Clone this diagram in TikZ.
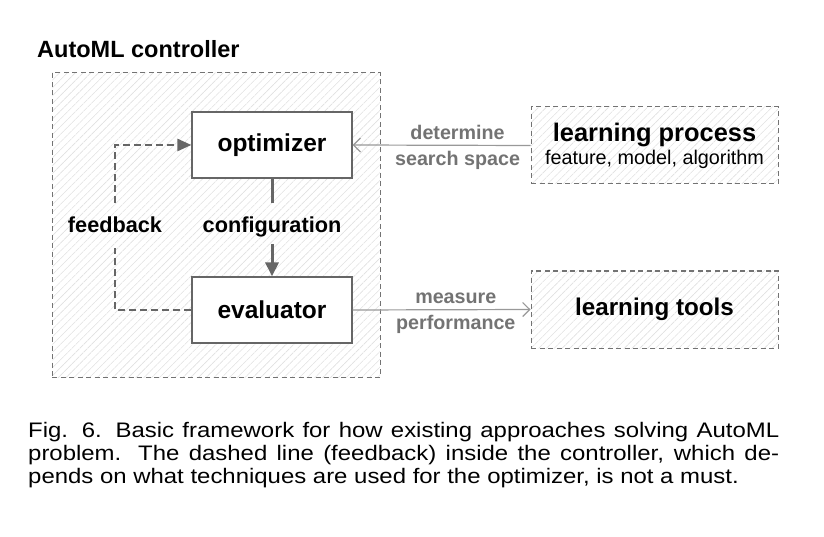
\documentclass[tikz,border=0pt]{standalone}
\usepackage{fontspec}
\setmainfont{Liberation Sans}
\newfontfamily\capfont{Liberation Sans}[FakeStretch=1.14]
\usetikzlibrary{arrows.meta,patterns.meta}
\newcommand{\fsz}[1]{\fontsize{#1}{#1}\selectfont}
\begin{document}
\begin{tikzpicture}[x=1pt,y=-1pt,
                hatch/.style={pattern={Lines[angle=45,distance=5.5pt,line width=.6pt]},pattern color=black!12},
                dashbox/.style={draw=black!55,line width=1pt,dash pattern=on 5pt off 3.5pt,hatch},
                block/.style={draw=black!60,line width=1.2pt,fill=white,minimum width=160pt,minimum height=66pt,inner sep=0pt,font=\bfseries\fsz{24.5}},
                flow/.style={draw=black!60,line width=3pt},
                fbline/.style={draw=black!60,line width=2.5pt,dash pattern=on 7pt off 4pt},
                passarrow/.style={draw=black!40,line width=1.2pt,-{Straight Barb[length=7pt,width=14pt]}},
                note/.style={text=black!55,font=\bfseries\fsz{19.7},inner sep=5pt},
                lbl/.style={anchor=base,inner sep=0pt,font=\bfseries\fsz{21.7}}]
                \useasboundingbox (0,0) rectangle (824,537);
                \node[dashbox,minimum width=328pt,minimum height=304pt] (ctrl) at (216,225) {};
                \node[anchor=base west,inner sep=0pt,font=\bfseries\fsz{23.5}] (title) at (37,58) {AutoML controller};
                \node[block] (opt) at (272,145) {optimizer};
                \node[block] (ev) at (272,310) {evaluator};
                \node[lbl] (cfg) at (272,232.5) {configuration};
                \node[lbl] (fb) at (115,232.5) {feedback};
                \draw[flow] (opt.south) -- ([yshift=14pt]cfg.north);
                \draw[flow,-{Triangle[length=14pt,width=13pt]}] ([yshift=-6.5pt]cfg.south) -- (ev.north);
                \draw[fbline] (ev.west) -| ([yshift=-15.5pt]fb.south);
                \draw[fbline,-{Triangle[length=14pt,width=12pt]}] ([yshift=13.5pt]fb.north) |- (opt.west);
                % outside the controller
                \node[dashbox,minimum width=247pt,minimum height=77pt,align=center,font={\fontsize{19.8}{23}\selectfont}] (lp) at (654.5,145.5) {{\bfseries\fsz{25.4}learning process}\\feature, model, algorithm};
                \node[dashbox,minimum width=247pt,minimum height=77pt,font=\bfseries\fsz{24.2}] (lt) at (654.5,309.5) {learning tools};
                \draw[passarrow] (lp.west) -- node[note,pos=.41,above]{determine} node[note,pos=.41,below]{search space} (opt.east);
                \draw[passarrow] (ev.east) -- node[note,pos=.58,above]{measure} node[note,pos=.58,below]{performance} (lt.west);
                \node[anchor=base west,inner sep=0pt] (caption) at (28,437) {\parbox[t]{751pt}{\capfont\fontsize{21}{23}\selectfont Fig. 6. Basic framework for how existing approaches solving AutoML\linebreak problem. The dashed line (feedback) inside the controller, which de-\linebreak pends on what techniques are used for the optimizer, is not a must.}};
            \end{tikzpicture}
\end{document}
